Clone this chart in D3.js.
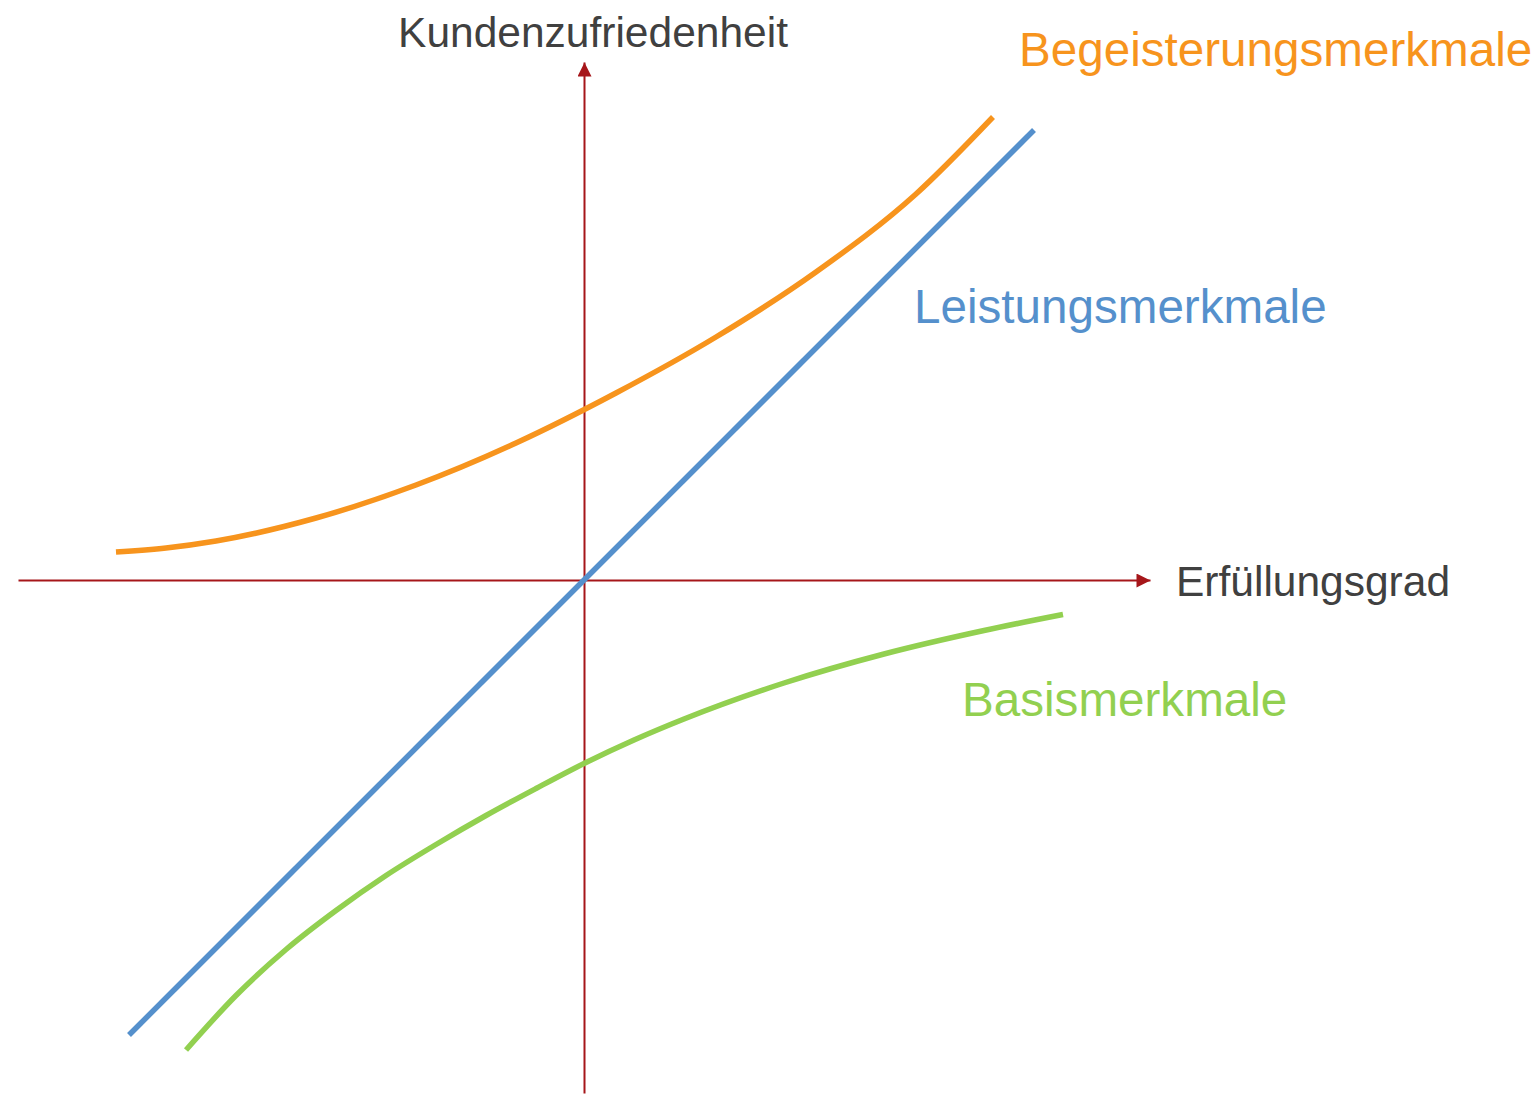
<!DOCTYPE html>
<html>
<head>
<meta charset="utf-8">
<script src="https://cdn.jsdelivr.net/npm/d3@7"></script>
<style>
  body { margin: 0; background: #fff; }
  svg { display: block; }
  text { font-family: "Liberation Sans", Arial, sans-serif; }
</style>
</head>
<body>
<svg></svg>
<script>
// Kano-Modell: Erfüllungsgrad (x) gegen Kundenzufriedenheit (y)
let xExtent = [-11.32, 11.32];
let yExtent = [-10.26, 10.36];

let xTitle = "Erfüllungsgrad";
let yTitle = "Kundenzufriedenheit";

let seriesNames = ["Begeisterungsmerkmale", "Leistungsmerkmale", "Basismerkmale"];

let begeisterung = [
  [-9.36, 0.56], [-8.36, 0.64], [-7.36, 0.78], [-5.36, 1.24], [-3.36, 1.90],
  [-1.36, 2.74], [0.64, 3.74], [2.64, 4.86], [4.64, 6.16], [6.64, 7.72], [8.18, 9.26]
];
let leistung = [[-9.1, -9.1], [9.0, 9.0]];
let basis = [
  [-7.96, -9.40], [-6.96, -8.31], [-5.96, -7.39], [-4.96, -6.61], [-3.96, -5.91],
  [-2.96, -5.29], [-1.96, -4.71], [-0.96, -4.17], [0, -3.67], [1.0, -3.20],
  [2.0, -2.78], [4.0, -2.06], [6.0, -1.48], [8.0, -1.01], [9.58, -0.69]
];

let w = 1540;
let h = 1095;
let svg = d3.select('svg').attr('width', w).attr('height', h);

let x = d3.scaleLinear().domain(xExtent).range([18, 1150]);
let y = d3.scaleLinear().domain(yExtent).range([1093, 62]);

let axisColor = '#a6161a';
let colors = ['#f7941d', '#5590cc', '#92d050'];

svg.append('defs').append('marker')
  .attr('id', 'arrow')
  .attr('viewBox', '0 0 10 10')
  .attr('refX', 10)
  .attr('refY', 5)
  .attr('markerUnits', 'userSpaceOnUse')
  .attr('markerWidth', 16)
  .attr('markerHeight', 14)
  .attr('orient', 'auto')
  .append('path')
  .attr('d', 'M0,0L10,5L0,10Z')
  .attr('fill', axisColor);

// axes through the origin, no ticks
let xAxis = svg.append('g')
  .attr('transform', `translate(0,${y(0)})`)
  .call(d3.axisBottom(x).ticks(0).tickSize(0).tickSizeOuter(0));
let yAxis = svg.append('g')
  .attr('transform', `translate(${x(0)},0)`)
  .call(d3.axisLeft(y).ticks(0).tickSize(0).tickSizeOuter(0));

[xAxis, yAxis].forEach(a => {
  a.selectAll('.tick').remove();
  a.select('.domain')
    .attr('stroke', axisColor)
    .attr('stroke-width', 2)
    .attr('marker-end', 'url(#arrow)');
});

let line = d3.line()
  .x(d => x(d[0]))
  .y(d => y(d[1]))
  .curve(d3.curveMonotoneX);

[begeisterung, leistung, basis].forEach((s, i) => {
  svg.append('path')
    .datum(s)
    .attr('d', line)
    .attr('fill', 'none')
    .attr('stroke', colors[i])
    .attr('stroke-width', 5.5);
});

// axis titles
svg.append('text')
  .attr('x', x(0) + 9)
  .attr('y', 47)
  .attr('text-anchor', 'middle')
  .attr('font-size', 42.5)
  .attr('fill', '#404040')
  .text(yTitle);

svg.append('text')
  .attr('x', 1176)
  .attr('y', 596)
  .attr('font-size', 42.5)
  .attr('fill', '#404040')
  .text(xTitle);

// series labels
let labelPos = [[1019, 66], [914, 323], [962, 716]];
seriesNames.forEach((n, i) => {
  svg.append('text')
    .attr('x', labelPos[i][0])
    .attr('y', labelPos[i][1])
    .attr('font-size', 47.6)
    .attr('fill', colors[i])
    .text(n);
});
</script>
</body>
</html>
